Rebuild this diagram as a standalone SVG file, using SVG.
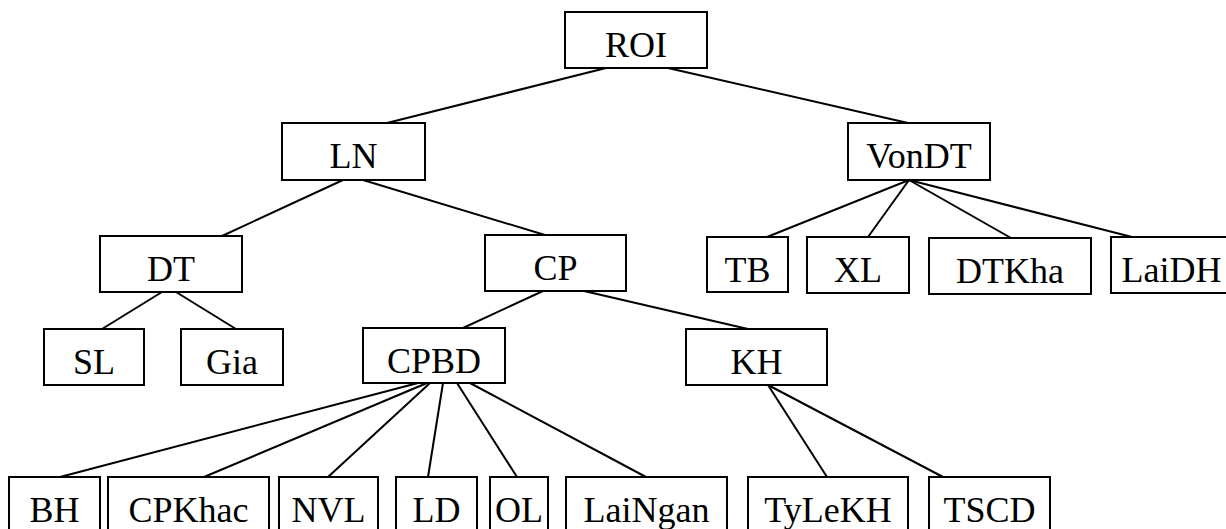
<svg xmlns="http://www.w3.org/2000/svg" width="1226" height="529" viewBox="0 0 1226 529">
<style>
.box{fill:#fff;stroke:#000;stroke-width:2}
.lbl{font-family:'Liberation Serif','Times New Roman',Times,'DejaVu Serif',serif;font-size:36px;fill:#000;text-anchor:middle}
.con line{stroke:#000;stroke-width:2;fill:none}
</style>
<rect width="1226" height="529" fill="#fff"/>
<g id="connectors" class="con">
<line x1="606" y1="68" x2="387" y2="123"/>
<line x1="668" y1="68" x2="908" y2="123"/>
<line x1="343" y1="180" x2="222" y2="236"/>
<line x1="363" y1="180" x2="545" y2="235"/>
<line x1="909" y1="180" x2="767" y2="237"/>
<line x1="909" y1="180" x2="868" y2="237"/>
<line x1="909" y1="180" x2="1011" y2="238"/>
<line x1="909" y1="180" x2="1132" y2="237"/>
<line x1="162" y1="292" x2="102" y2="329"/>
<line x1="176" y1="292" x2="236" y2="329"/>
<line x1="543" y1="291" x2="463" y2="328"/>
<line x1="584" y1="291" x2="748" y2="329"/>
<line x1="418" y1="383" x2="60" y2="477"/>
<line x1="427" y1="383" x2="204" y2="477"/>
<line x1="430" y1="383" x2="328" y2="477"/>
<line x1="443" y1="383" x2="428" y2="477"/>
<line x1="457" y1="383" x2="517" y2="477"/>
<line x1="470" y1="383" x2="646" y2="477"/>
<line x1="768" y1="385" x2="827" y2="477"/>
<line x1="768" y1="385" x2="943" y2="477"/>
</g>
<g id="ROI"><rect class="box" x="565" y="12" width="142" height="56"/><text class="lbl" x="636" y="57" font-family="Liberation Serif, serif">ROI</text></g>
<g id="LN"><rect class="box" x="282" y="123" width="143" height="57"/><text class="lbl" x="353.5" y="168">LN</text></g>
<g id="VonDT"><rect class="box" x="848" y="123" width="142" height="57"/><text class="lbl" x="919" y="168">VonDT</text></g>
<g id="DT"><rect class="box" x="100" y="236" width="142" height="56"/><text class="lbl" x="171" y="281">DT</text></g>
<g id="CP"><rect class="box" x="485" y="235" width="141" height="56"/><text class="lbl" x="555.5" y="280">CP</text></g>
<g id="TB"><rect class="box" x="707" y="237" width="81" height="55"/><text class="lbl" x="747.5" y="282">TB</text></g>
<g id="XL"><rect class="box" x="807" y="237" width="102" height="56"/><text class="lbl" x="858" y="282">XL</text></g>
<g id="DTKha"><rect class="box" x="929" y="238" width="162" height="56"/><text class="lbl" x="1010" y="283">DTKha</text></g>
<g id="LaiDH"><rect class="box" x="1111" y="237" width="121" height="56"/><text class="lbl" x="1171.5" y="282">LaiDH</text></g>
<g id="SL"><rect class="box" x="44" y="329" width="100" height="56"/><text class="lbl" x="94" y="374">SL</text></g>
<g id="Gia"><rect class="box" x="181" y="329" width="102" height="56"/><text class="lbl" x="232" y="374">Gia</text></g>
<g id="CPBD"><rect class="box" x="363" y="328" width="142" height="55"/><text class="lbl" x="434" y="373">CPBD</text></g>
<g id="KH"><rect class="box" x="686" y="329" width="141" height="56"/><text class="lbl" x="756.5" y="374">KH</text></g>
<g id="BH"><rect class="box" x="9" y="477" width="91" height="56"/><text class="lbl" x="54.5" y="522">BH</text></g>
<g id="CPKhac"><rect class="box" x="108" y="477" width="161" height="56"/><text class="lbl" x="188.5" y="522">CPKhac</text></g>
<g id="NVL"><rect class="box" x="279" y="477" width="99" height="56"/><text class="lbl" x="328.5" y="522">NVL</text></g>
<g id="LD"><rect class="box" x="396" y="477" width="81" height="56"/><text class="lbl" x="436.5" y="522">LD</text></g>
<g id="OL"><rect class="box" x="490" y="477" width="58" height="56"/><text class="lbl" x="519" y="522">OL</text></g>
<g id="LaiNgan"><rect class="box" x="566" y="477" width="161" height="56"/><text class="lbl" x="646.5" y="522">LaiNgan</text></g>
<g id="TyLeKH"><rect class="box" x="748" y="477" width="160" height="56"/><text class="lbl" x="828" y="522">TyLeKH</text></g>
<g id="TSCD"><rect class="box" x="929" y="477" width="121" height="56"/><text class="lbl" x="989.5" y="522">TSCD</text></g>
</svg>
